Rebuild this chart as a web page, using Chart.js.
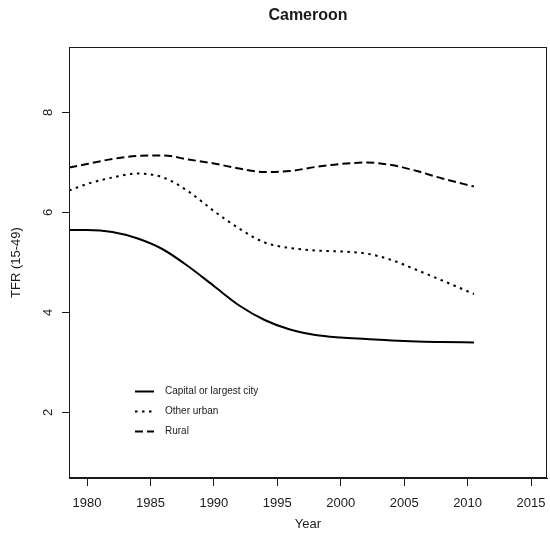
<!DOCTYPE html>
<html>
<head>
<meta charset="utf-8">
<script src="https://cdn.jsdelivr.net/npm/chart.js"></script>
<style>
  body { margin: 0; background: #fff; }
  #myChart { display: block; }
</style>
</head>
<body>
<canvas id="myChart" width="550" height="547"></canvas>
<script>
// smoothed TFR (15-49) by place of residence
const years      = [1978.6, 1980, 1982, 1984, 1986, 1988, 1990, 1992, 1994, 1996, 1998, 2000, 2002, 2004, 2006, 2008, 2010.5];
const capital    = [5.65, 5.65, 5.61, 5.48, 5.26, 4.92, 4.53, 4.14, 3.85, 3.66, 3.55, 3.50, 3.47, 3.44, 3.42, 3.41, 3.40];
const otherUrban = [6.44, 6.57, 6.70, 6.78, 6.70, 6.42, 6.03, 5.68, 5.40, 5.29, 5.24, 5.22, 5.18, 5.05, 4.85, 4.64, 4.37];
const rural      = [6.90, 6.97, 7.07, 7.13, 7.14, 7.06, 6.98, 6.88, 6.81, 6.83, 6.91, 6.97, 7.00, 6.95, 6.83, 6.68, 6.52];

const seriesNames = ['Capital or largest city', 'Other urban', 'Rural'];
const xTicks = [1980, 1985, 1990, 1995, 2000, 2005, 2010, 2015];
const yTicks = [2, 4, 6, 8];

const FONT = '"Liberation Sans", Arial, sans-serif';
const INK = '#1a1a1a';

function points(values) {
    return years.map((yr, i) => ({ x: yr, y: values[i] }));
}

function line(label, values, dash) {
    return {
        label: label,
        data: points(values),
        borderColor: '#000',
        borderWidth: 2,
        borderDash: dash,
        borderCapStyle: 'butt',
        pointRadius: 0,
        cubicInterpolationMode: 'monotone',
        fill: false
    };
}

// box, title, axis titles, rotated y labels and the legend, base-R style
const rStyle = {
    id: 'rStyle',
    afterDraw(chart) {
        const ctx = chart.ctx;
        const area = chart.chartArea;
        const yScale = chart.scales.y;
        const midX = (area.left + area.right) / 2;
        const midY = (area.top + area.bottom) / 2;

        ctx.save();
        ctx.strokeStyle = INK;
        ctx.lineWidth = 1;
        ctx.setLineDash([]);
        ctx.strokeRect(Math.round(area.left) + 0.5, Math.round(area.top) + 0.5,
            Math.round(area.right - area.left) - 1, Math.round(area.bottom - area.top) - 1);

        ctx.fillStyle = INK;
        ctx.textAlign = 'center';
        ctx.textBaseline = 'middle';

        ctx.font = 'bold 16px ' + FONT;
        ctx.fillText('Cameroon', midX, 16);

        ctx.font = '13px ' + FONT;
        ctx.fillText('Year', midX, 524);

        ctx.save();
        ctx.translate(16, midY);
        ctx.rotate(-Math.PI / 2);
        ctx.fillText('TFR (15-49)', 0, 0);
        ctx.restore();

        yTicks.forEach(v => {
            ctx.save();
            ctx.translate(48, yScale.getPixelForValue(v));
            ctx.rotate(-Math.PI / 2);
            ctx.fillText(String(v), 0, 0);
            ctx.restore();
        });

        // legend
        ctx.font = '10px ' + FONT;
        ctx.textAlign = 'left';
        chart.data.datasets.forEach((ds, i) => {
            const y = 391.5 + i * 20;
            ctx.beginPath();
            ctx.lineWidth = 2;
            ctx.lineCap = 'butt';
            ctx.strokeStyle = '#000';
            ctx.setLineDash(ds.borderDash || []);
            ctx.moveTo(135, y);
            ctx.lineTo(154, y);
            ctx.stroke();
            ctx.fillText(ds.label, 165, y);
        });
        ctx.restore();
    }
};

const ctx = document.getElementById('myChart').getContext('2d');

new Chart(ctx, {
    type: 'line',
    data: {
        datasets: [
            line(seriesNames[0], capital, []),
            line(seriesNames[1], otherUrban, [2.5, 4.5]),
            line(seriesNames[2], rural, [8, 4])
        ]
    },
    options: {
        responsive: false,
        animation: false,
        layout: { padding: { top: 47, right: 0, left: 0, bottom: 0 } },
        plugins: {
            legend: { display: false },
            title: { display: false },
            tooltip: { enabled: false }
        },
        scales: {
            x: {
                type: 'linear',
                min: 1978.58,
                max: 2016.26,
                afterBuildTicks: s => { s.ticks = xTicks.map(v => ({ value: v })); },
                afterFit: s => { s.height = 69; s.paddingRight = 3; },
                grid: { drawOnChartArea: false, drawTicks: true, tickLength: 8, color: INK, lineWidth: 1 },
                border: { display: true, color: INK, width: 1 },
                ticks: {
                    color: INK,
                    padding: 10,
                    maxRotation: 0,
                    font: { family: FONT, size: 13 },
                    callback: v => String(v)
                }
            },
            y: {
                type: 'linear',
                min: 0.69,
                max: 9.31,
                afterBuildTicks: s => { s.ticks = yTicks.map(v => ({ value: v })); },
                afterFit: s => { s.width = 69; },
                grid: { drawOnChartArea: false, drawTicks: true, tickLength: 7, color: INK, lineWidth: 1 },
                border: { display: true, color: INK, width: 1 },
                ticks: { display: false }
            }
        }
    },
    plugins: [rStyle]
});
</script>
</body>
</html>
